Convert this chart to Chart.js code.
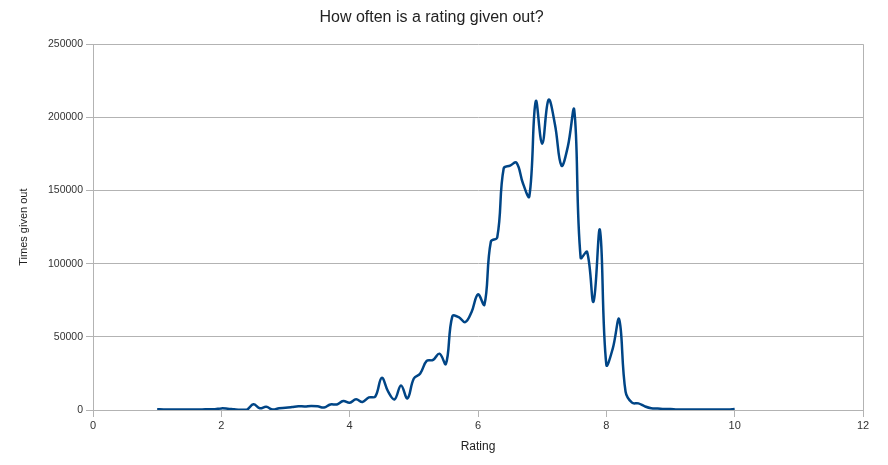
<!DOCTYPE html>
<html>
<head>
<meta charset="utf-8">
<script src="https://cdn.jsdelivr.net/npm/chart.js@4/dist/chart.umd.min.js"></script>
<style>
  html, body { margin: 0; padding: 0; background: #ffffff; }
  #wrap { width: 888px; height: 465px; position: relative; }
</style>
</head>
<body>
<div id="wrap"><canvas id="c" width="888" height="465"></canvas></div>
<script>
// Ratings 1.0 .. 10.0 in steps of 0.1
const ratings = [
  1.0,1.1,1.2,1.3,1.4,1.5,1.6,1.7,1.8,1.9,
  2.0,2.1,2.2,2.3,2.4,2.5,2.6,2.7,2.8,2.9,
  3.0,3.1,3.2,3.3,3.4,3.5,3.6,3.7,3.8,3.9,
  4.0,4.1,4.2,4.3,4.4,4.5,4.6,4.7,4.8,4.9,
  5.0,5.1,5.2,5.3,5.4,5.5,5.6,5.7,5.8,5.9,
  6.0,6.1,6.2,6.3,6.4,6.5,6.6,6.7,6.8,6.9,
  7.0,7.1,7.2,7.3,7.4,7.5,7.6,7.7,7.8,7.9,
  8.0,8.1,8.2,8.3,8.4,8.5,8.6,8.7,8.8,8.9,
  9.0,9.1,9.2,9.3,9.4,9.5,9.6,9.7,9.8,9.9,
  10.0
];
const timesGivenOut = [
  500,400,400,400,400,400,400,400,500,500,
  1100,900,500,200,200,3900,1200,2200,300,1200,
  1500,2000,2600,2400,2800,2500,1700,3800,3800,6200,
  5000,7300,5500,8600,9200,22000,12500,7300,16800,8000,
  21500,25000,33500,34200,38500,31500,64000,63500,60000,67000,
  79000,72000,115000,118000,165000,167000,169000,155000,146000,211000,
  182000,212000,195000,167000,180000,205000,104000,108000,74000,123000,
  31000,42000,62000,12500,5000,4500,2500,1200,1000,700,
  700,300,300,300,300,300,300,300,300,300,
  700
];
const xTicks = [0, 2, 4, 6, 8, 10, 12];
const yTicks = [0, 50000, 100000, 150000, 200000, 250000];

const points = ratings.map((r, i) => ({ x: r, y: timesGivenOut[i] }));
const GRID = '#b3b3b3';
const FONT = "'Liberation Sans', Arial, sans-serif";

new Chart(document.getElementById('c'), {
  type: 'line',
  data: {
    datasets: [{
      data: points,
      borderColor: '#004586',
      borderWidth: 2.5,
      pointRadius: 0,
      tension: 0.4,
      fill: false
    }]
  },
  options: {
    responsive: false,
    animation: false,
    events: [],
    layout: { padding: { left: 0, right: 25, top: 0, bottom: 11 } },
    plugins: {
      legend: { display: false },
      tooltip: { enabled: false },
      title: {
        display: true,
        text: 'How often is a rating given out?',
        color: '#222',
        font: { family: FONT, size: 16, weight: 'normal' },
        padding: { top: 8, bottom: 17 }
      }
    },
    scales: {
      x: {
        type: 'linear',
        min: xTicks[0],
        max: xTicks[xTicks.length - 1],
        afterBuildTicks: (s) => { s.ticks = xTicks.map(v => ({ value: v })); },
        afterFit: (s) => { s.height = 44; },
        grid: {
          drawOnChartArea: true,
          color: (ctx) => (ctx.tick && (ctx.tick.value === xTicks[0] || ctx.tick.value === xTicks[xTicks.length - 1])) ? GRID : 'rgba(0,0,0,0)',
          tickColor: GRID,
          tickLength: 7,
          lineWidth: 1
        },
        border: { display: true, color: GRID },
        ticks: { color: '#333', font: { family: FONT, size: 11 }, padding: 2, maxRotation: 0 },
        title: {
          display: true,
          text: 'Rating',
          color: '#222',
          font: { family: FONT, size: 12 },
          padding: { top: 4, bottom: 0 }
        }
      },
      y: {
        type: 'linear',
        min: yTicks[0],
        max: yTicks[yTicks.length - 1],
        afterBuildTicks: (s) => { s.ticks = yTicks.map(v => ({ value: v })); },
        afterFit: (s) => { s.width = 93; },
        grid: { color: GRID, tickColor: GRID, tickLength: 7, lineWidth: 1 },
        border: { display: true, color: GRID },
        ticks: {
          color: '#333',
          font: { family: FONT, size: 10.5 },
          padding: 3,
          callback: (v) => String(v)
        },
        title: {
          display: true,
          text: 'Times given out',
          color: '#222',
          font: { family: FONT, size: 11 },
          padding: { top: 17, bottom: 0 }
        }
      }
    }
  }
});
</script>
</body>
</html>
